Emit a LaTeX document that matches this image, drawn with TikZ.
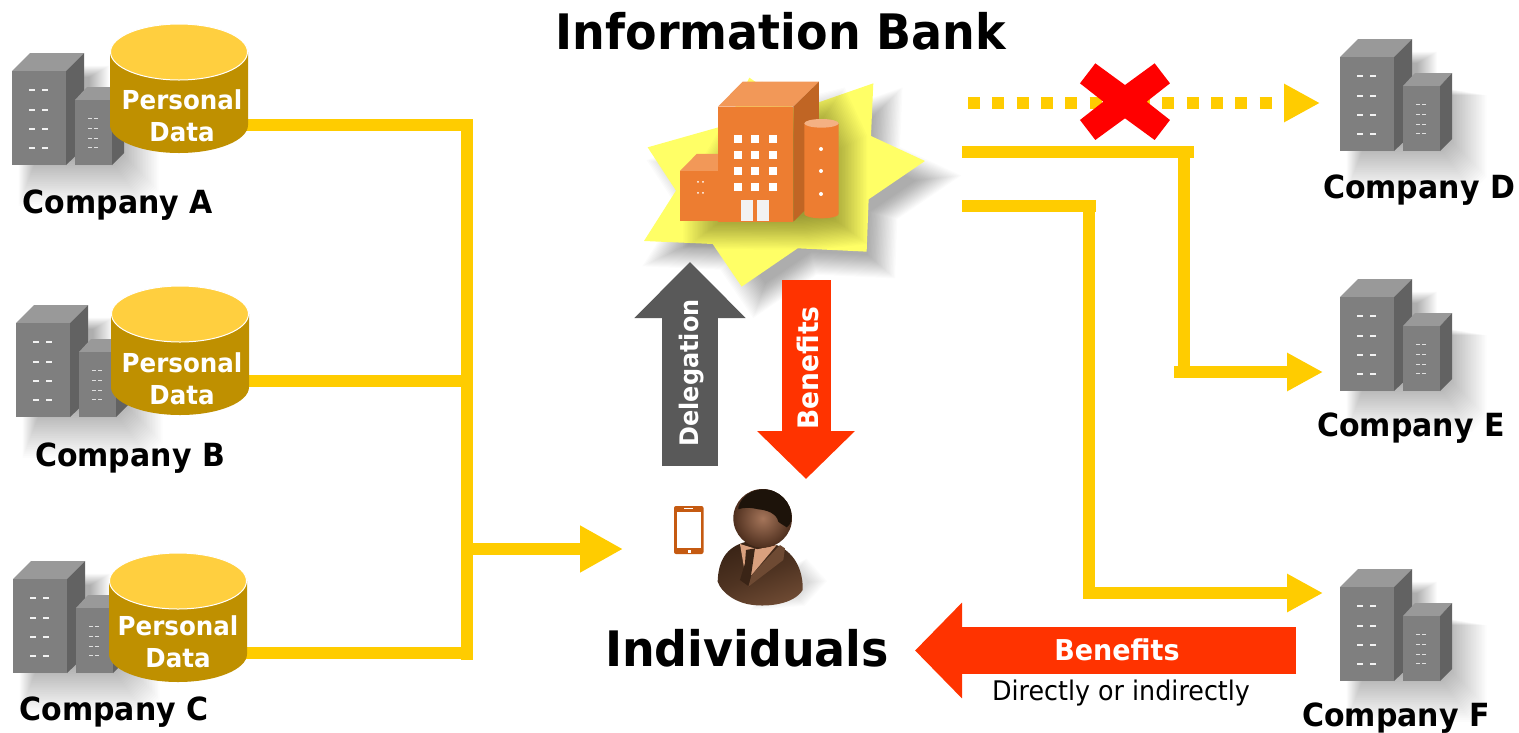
\documentclass[tikz,border=0pt]{standalone}
\usepackage{fontspec}
\setmainfont{DejaVu Sans}[FakeStretch=0.94]
\usetikzlibrary{arrows.meta}
\definecolor{ylw}{HTML}{FFCC00}
\definecolor{redarrow}{HTML}{FF3300}
\definecolor{grayarrow}{HTML}{595959}
\definecolor{cylbody}{HTML}{BF9000}
\definecolor{cyltop}{HTML}{FFCF3F}
\definecolor{orfront}{HTML}{ED7D31}
\definecolor{ortop}{HTML}{F29858}
\definecolor{orside}{HTML}{C06524}
\definecolor{silotop}{HTML}{F4B183}
\definecolor{star}{HTML}{FFFF66}
\definecolor{bfront}{HTML}{7F7F7F}
\definecolor{btop}{HTML}{999999}
\definecolor{bside}{HTML}{626262}
\definecolor{phone}{HTML}{C55A11}
\definecolor{suitdark}{HTML}{3A2416}
\definecolor{suitmid}{HTML}{6E4A33}
\definecolor{skin}{HTML}{A5755A}
\definecolor{skindark}{HTML}{4E2F1E}
\definecolor{shirt}{HTML}{D9A07E}
\tikzset{
  x=1pt,y=-1pt,
  yline/.style={draw=ylw,line width=12pt},
  yarrow/.style={yline,-{Triangle[length=36pt,width=36pt]}},
  company/.style={font=\bfseries\fontsize{31.9}{31.9}\selectfont,text=black,inner sep=0pt},
  cyltext/.style={font=\bfseries\fontsize{26.1}{26.1}\selectfont,text=white,inner sep=0pt},
  title/.style={font=\bfseries\fontsize{48.9}{48.9}\selectfont,text=black,inner sep=0pt},
}
% soft shadow: stacked fills scaled about a centre
% #1 opacity per layer, #2 centre, #3 first scale, #4 second scale, #5 last scale, #6 path
\newcommand{\softshadow}[6][.01]{%
  \foreach \s in {#3,#4,...,#5}{
    \fill[black,opacity=#1,scale around={\s:(#2)}] #6;
  }}
% company buildings; #1 x, #2 y of top-left corner
\newcommand{\compbldg}[2]{%
  \begin{scope}[shift={(#1,#2)}]
    \softshadow[.013]{50,40}{.72}{.74}{1.26}{(15,36) -- (33,18) -- (88,18) -- (88,53) -- (128,53) -- (128,119) -- (116,131) -- (15,131) -- cycle}
    \fill[btop] (0,18) -- (18,0) -- (72,0) -- (54,18) -- cycle;
    \fill[bside] (54,18) -- (72,0) -- (72,95) -- (54,112) -- cycle;
    \fill[bfront] (0,18) rectangle (54,112);
    \fill[btop] (63,47) -- (75,34) -- (112,34) -- (100,47) -- cycle;
    \fill[bside] (100,47) -- (112,34) -- (112,100) -- (100,112) -- cycle;
    \fill[bfront] (63,47) rectangle (100,112);
    \foreach \yy in {37,57,76,95}{
      \fill[white!95!black] (17,\yy-1) rectangle (23,\yy+1);
      \fill[white!95!black] (30,\yy-1) rectangle (36,\yy+1);
    }
    \foreach \yy in {65,75,85,94}{
      \fill[white!88!black] (76,\yy-.5) rectangle (80,\yy+.5);
      \fill[white!88!black] (82,\yy-.5) rectangle (86,\yy+.5);
    }
  \end{scope}}
% data cylinder; #1 x centre, #2 y of top
\newcommand{\datacyl}[2]{%
  \begin{scope}[shift={(#1,#2)}]
    \fill[cylbody] (-69,28) -- (-69,101) arc[start angle=180,end angle=0,x radius=69,y radius=28] -- (69,28) -- cycle;
    \fill[cyltop,draw=white,line width=1pt] (0,28) ellipse[x radius=68.5,y radius=28];
  \end{scope}}
\begin{document}
\begin{tikzpicture}
\useasboundingbox (0,0) rectangle (1519,732);
\fill[white] (0,0) rectangle (1519,732);

% named connector ends
\coordinate (srcA) at (245,125);
\coordinate (srcB) at (248,381);
\coordinate (srcC) at (245,653);
\coordinate (busA) at (473,125);
\coordinate (busB) at (461,381);
\coordinate (busC) at (473,653);
\coordinate (busTop) at (467,119);
\coordinate (busBot) at (467,660);
\coordinate (busOut) at (473,549);
\coordinate (toPerson) at (623,549);
\coordinate (bankD) at (968,103);
\coordinate (toD) at (1320,103);
\coordinate (bankE) at (962,152);
\coordinate (elbowE) at (1194,152);
\coordinate (downEtop) at (1184,152);
\coordinate (downEbot) at (1184,378);
\coordinate (startE) at (1174,372);
\coordinate (toE) at (1323,372);
\coordinate (bankF) at (962,206);
\coordinate (elbowF) at (1096,206);
\coordinate (downFtop) at (1089,206);
\coordinate (downFbot) at (1089,599);
\coordinate (startF) at (1084,593);
\coordinate (toF) at (1323,593);

% companies left
\compbldg{12}{53}
\compbldg{16}{305}
\compbldg{13}{561}
% companies right
\compbldg{1340}{39}
\compbldg{1340}{279}
\compbldg{1340}{569}

% left connectors
\draw[yline] (srcA) -- (busA);
\draw[yline] (srcB) -- (busB);
\draw[yline] (srcC) -- (busC);
\draw[yline] (busTop) -- (busBot);
\draw[yline,-{Triangle[length=43pt,width=44pt]}] (busOut) -- (toPerson);

\datacyl{179}{24}
\node[cyltext] (persA) at (182,100) {Personal};
\node[cyltext] (dataA) at (182,132.5) {Data};
\node[company] (compA) at (118,205) {Company A};

\datacyl{180}{286}
\node[cyltext] (persB) at (182,363) {Personal};
\node[cyltext] (dataB) at (182,395.5) {Data};
\node[company] (compB) at (130,458) {Company B};

\datacyl{178}{553}
\node[cyltext] (persC) at (178,626) {Personal};
\node[cyltext] (dataC) at (178,658.5) {Data};
\node[company] (compC) at (114,712) {Company C};

\node[company] (compD) at (1419,190) {Company D};
\node[company] (compE) at (1411,428) {Company E};
\node[company] (compF) at (1396,718) {Company F};

% titles
\node[title] (bank) at (781,31) {Information Bank};
\node[title] (indiv) at (747,648) {Individuals};

% star + bank building
\begin{scope}[shift={(630,60)},x=.3333pt,y=-.3333pt]
  \begin{scope}[shift={(50,50)}]
    \softshadow[.016]{450,350}{.82}{.835}{1.14}{(53,262) -- (290,195) -- (358,53) -- (500,150) -- (730,70) -- (723,228) -- (885,303) -- (716,418) -- (710,575) -- (503,565) -- (335,680) -- (248,552) -- (42,543) -- (138,392) -- cycle}
  \end{scope}
  \fill[star] (53,262) -- (290,195) -- (358,53) -- (500,150) -- (730,70) -- (723,228) -- (885,303) -- (716,418) -- (710,575) -- (503,565) -- (335,680) -- (248,552) -- (42,543) -- (138,392) -- cycle;
  \begin{scope}[shift={(50,55)}]
    \softshadow[.016]{400,300}{.62}{.64}{1.18}{(150,333) -- (264,140) -- (567,65) -- (626,190) -- (626,470) -- (490,485) -- (150,483) -- cycle}
  \end{scope}
  % annex
  \fill[ortop] (150,333) -- (200,282) -- (264,282) -- (264,333) -- cycle;
  \fill[orfront] (150,333) rectangle (264,483);
  \foreach \p in {(204,366),(219,366),(204,399),(219,399)}
    \fill[white] \p circle[radius=3];
  % main
  \fill[ortop] (264,140) -- (338,65) -- (567,65) -- (490,140) -- cycle;
  \fill[orside] (490,140) -- (567,65) -- (567,410) -- (490,485) -- cycle;
  \fill[orfront] (264,140) rectangle (490,485);
  \foreach \xx in {323,376,429}
    \foreach \yy in {238,286,334,382}
      \fill[white] (\xx-12,\yy-12) rectangle (\xx+12,\yy+12);
  \fill[white!95!black] (333,420) rectangle (369,484);
  \fill[white!95!black] (381,420) rectangle (417,484);
  % silo
  \fill[orfront] (523,190) -- (523,462) arc[start angle=180,end angle=0,x radius=51.5,y radius=13] -- (626,190) -- cycle;
  \fill[silotop] (574.5,190) ellipse[x radius=51.5,y radius=13];
  \foreach \yy in {267,333,402}
    \fill[white] (573,\yy) circle[radius=6];
\end{scope}

% dotted connector + cross
\draw[draw=ylw,line width=12pt,dash pattern=on 12pt off 12.3pt,-{Triangle[length=36pt,width=36pt,sep=0pt]}] (bankD) -- (toD);
\begin{scope}[shift={(950,30)},x=.3333pt,y=-.3333pt]
  \fill[red] (436,100) -- (525,165) -- (614,100) -- (660,160) -- (590,215) -- (660,270) -- (614,330) -- (525,265) -- (436,330) -- (390,270) -- (460,215) -- (390,160) -- cycle;
\end{scope}

% right connectors
\draw[yline] (downEtop) -- (downEbot);
\draw[yline] (bankE) -- (elbowE);
\draw[yarrow] (startE) -- (toE);
\draw[yline] (downFtop) -- (downFbot);
\draw[yline] (bankF) -- (elbowF);
\draw[yarrow] (startF) -- (toF);

% block arrows
\coordinate (delBot) at (690,466);
\coordinate (delTop) at (690,262);
\coordinate (benTop) at (806,280);
\coordinate (benBot) at (806,479);
\coordinate (hbenR) at (1296,650.5);
\coordinate (hbenL) at (915,650.5);
\draw[draw=grayarrow,line width=56pt,-{Triangle[length=56pt,width=108pt]}] (delBot) -- (delTop);
\draw[draw=redarrow,line width=49pt,-{Triangle[length=48pt,width=95pt]}] (benTop) -- (benBot);
\draw[draw=redarrow,line width=47pt,-{Triangle[length=47pt,width=93pt]}] (hbenR) -- (hbenL);
\node[font=\bfseries\fontsize{25.5}{25.5}\selectfont,text=white,rotate=90,inner sep=0pt] (delegLbl) at (692,373) {Delegation};
\node[font=\bfseries\fontsize{28.2}{28.2}\selectfont,text=white,rotate=90,inner sep=0pt] (benLbl) at (808,368) {Benefits};
\node[font=\bfseries\fontsize{28.7}{28.7}\selectfont,text=white,inner sep=0pt] (hbenLbl) at (1117,650) {Benefits};
\node[font=\fontsize{27}{27}\selectfont,text=black,inner sep=0pt] (directLbl) at (1121,693) {Directly or indirectly};

% phone
\fill[phone,rounded corners=2pt] (674,506) rectangle (703.5,554);
\fill[white] (677,512) rectangle (701,548);
\fill[white] (687.5,550) rectangle (690.5,553);
\fill[white] (684,508.3) rectangle (693,509.3);

% person
\begin{scope}[shift={(620,470)},x=.3333pt,y=-.3333pt]
  \softshadow[.012]{500,340}{.75}{.8}{1.4}{(420,400) -- (540,390) -- (590,335) -- (545,285) -- (450,330) -- cycle}
  \path[left color=suitdark,right color=suitmid,middle color=suitdark!60!suitmid,shading angle=20]
    (293,335) .. controls (295,270) and (320,230) .. (380,215)
    -- (470,225) .. controls (530,250) and (550,310) .. (548,360)
    .. controls (520,405) and (440,410) .. (400,405)
    .. controls (350,400) and (305,370) .. (293,335) -- cycle;
  \fill[shirt] (360,222) -- (412,238) -- (470,225) -- (395,315) -- (375,310) -- cycle;
  \fill[suitdark] (378,240) -- (405,235) -- (397,290) -- (388,350) -- (360,330) -- (375,280) -- cycle;
  \fill[suitmid] (395,315) -- (480,225) -- (495,235) -- (490,270) -- (385,350) -- cycle;
  \shade[inner color=skin,outer color=skindark] (428,145) circle[radius=88];
  \fill[black!85!brown] (355,112) .. controls (365,75) and (400,58) .. (430,58)
    .. controls (480,58) and (515,100) .. (515,140)
    .. controls (515,155) and (510,165) .. (500,172)
    .. controls (490,165) and (480,160) .. (475,155)
    .. controls (470,130) and (440,120) .. (415,118)
    .. controls (390,112) and (370,112) .. (355,118) -- cycle;
\end{scope}
\end{tikzpicture}
\end{document}
